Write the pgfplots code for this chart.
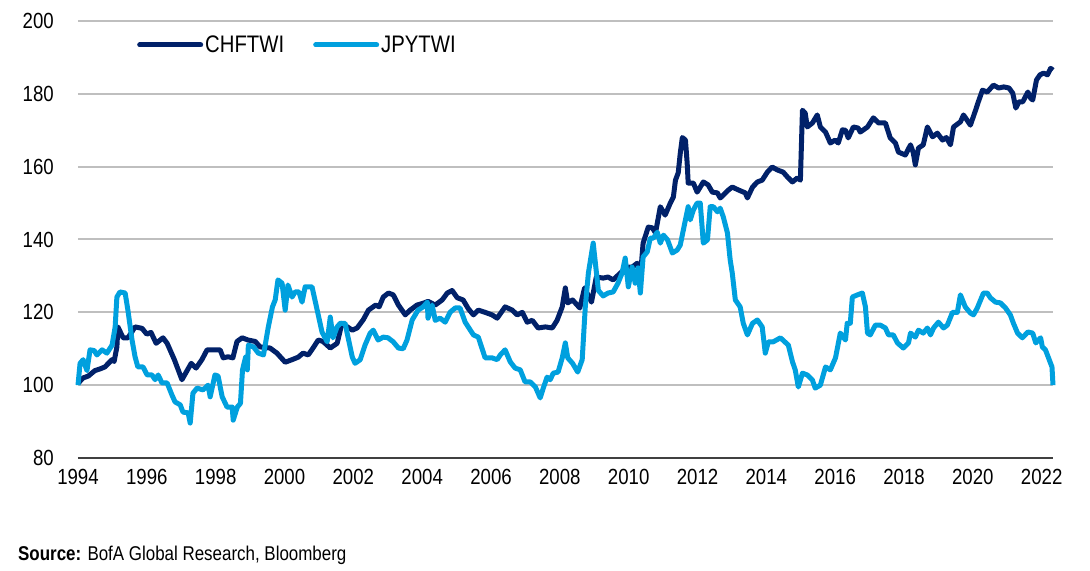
\documentclass[border=0pt]{standalone}
\usepackage{fontspec}
\setmainfont{Liberation Sans}[FakeStretch=0.85]
\newfontfamily\srcfont{Liberation Sans}[FakeStretch=0.85]
\usepackage{pgfplots}
\usepackage{pgfplotstable}
\pgfplotsset{compat=1.18}

\definecolor{chfblue}{RGB}{1,33,105}
\definecolor{jpyblue}{RGB}{0,160,222}
\definecolor{gridgray}{RGB}{191,191,191}
\definecolor{axisgray}{RGB}{64,64,64}

% CHF trade-weighted index
\pgfplotstableread{
year val
1994.00 100.5
1994.15 102
1994.30 102.5
1994.49 104
1994.65 104.5
1994.78 105
1994.99 107
1995.05 106.5
1995.13 110.5
1995.16 116
1995.31 113
1995.45 113
1995.66 116
1995.86 115.6
1996.00 114
1996.12 114.5
1996.27 111.5
1996.47 113
1996.59 111.5
1996.80 107
1997.02 101.5
1997.29 106
1997.43 104.7
1997.60 107
1997.75 109.7
1997.98 109.7
1998.13 109.7
1998.22 107.5
1998.36 107.8
1998.50 107.5
1998.62 112
1998.77 113
1998.94 112.4
1999.15 112
1999.29 110.5
1999.58 110.2
1999.78 108.8
2000.02 106.3
2000.22 107
2000.40 107.7
2000.54 108.8
2000.69 108.3
2000.83 110.2
2000.98 112.4
2001.12 112
2001.33 110.2
2001.53 111.5
2001.67 117
2001.97 115.1
2002.11 115.7
2002.29 118
2002.44 120.6
2002.65 122
2002.75 121.5
2002.87 124.2
2003.02 125.3
2003.16 124.8
2003.31 122
2003.51 119.3
2003.65 120.6
2003.85 122
2004.03 122.5
2004.17 123
2004.38 122
2004.58 123.4
2004.73 125.3
2004.87 126
2005.02 124
2005.19 123.4
2005.34 121
2005.49 119.3
2005.63 120.6
2005.83 120
2006.03 119.3
2006.18 118.4
2006.41 121.5
2006.62 120.6
2006.76 119.3
2006.91 120
2007.05 117.3
2007.20 117.8
2007.37 115.7
2007.58 116
2007.78 115.7
2007.92 117.8
2008.07 121.5
2008.16 126.7
2008.23 122.6
2008.37 123.4
2008.58 121.2
2008.72 126.7
2008.92 122.8
2009.06 129.7
2009.26 129.4
2009.40 129.7
2009.55 128.9
2009.76 130.8
2009.96 132.4
2010.10 132.4
2010.25 133.5
2010.34 129.7
2010.42 139
2010.57 143.4
2010.69 143.2
2010.78 141.8
2010.92 149
2011.06 146.7
2011.21 150
2011.30 151.7
2011.36 156.3
2011.44 158.3
2011.50 163.7
2011.56 168
2011.65 167.3
2011.70 161
2011.73 155.5
2011.88 155.5
2011.99 153
2012.17 155.8
2012.31 155
2012.43 153
2012.58 152.8
2012.66 151.4
2012.75 152.2
2012.90 153.6
2013.01 154.4
2013.19 153.6
2013.39 152.8
2013.45 151.4
2013.60 154.4
2013.74 155.8
2013.88 156.3
2014.03 158.5
2014.17 159.9
2014.32 159.1
2014.49 158.5
2014.61 157.2
2014.76 155.8
2014.90 156.9
2014.99 156.3
2015.05 175.5
2015.13 174.7
2015.19 170.9
2015.34 172
2015.48 174.2
2015.57 170.9
2015.72 169.5
2015.86 166.5
2016.00 167.3
2016.09 166.5
2016.21 170.1
2016.30 170
2016.38 167.9
2016.53 170.9
2016.67 170.6
2016.73 169.5
2016.94 170.9
2017.11 173.4
2017.26 172
2017.46 172
2017.60 167.9
2017.75 166.5
2017.84 164
2018.04 163.2
2018.19 166
2018.27 163.8
2018.33 160.5
2018.42 165.1
2018.56 166
2018.68 170.9
2018.83 168.2
2018.97 169.2
2019.12 167.3
2019.23 168
2019.35 166
2019.44 170.9
2019.64 172.3
2019.73 174.2
2019.93 171.4
2020.08 175.5
2020.16 177.8
2020.28 181
2020.42 180.5
2020.60 182.4
2020.75 181.6
2020.90 181.9
2021.05 181.6
2021.16 180.2
2021.25 176.1
2021.34 177.8
2021.45 177.8
2021.60 180.5
2021.68 178.8
2021.74 178.3
2021.85 183.8
2021.95 185.2
2022.06 185.7
2022.17 185.2
2022.26 187
2022.33 186.5
}\chftwi

% JPY trade-weighted index
\pgfplotstableread{
year val
1994.00 100
1994.06 106
1994.15 107
1994.26 104
1994.35 109.7
1994.47 109.5
1994.55 108.3
1994.70 109.7
1994.84 108.8
1994.99 111
1995.08 116
1995.13 124.2
1995.22 125.6
1995.37 125.3
1995.45 120.6
1995.57 112.4
1995.66 107.7
1995.74 105
1995.89 105
1996.01 102.8
1996.15 102.8
1996.24 101.5
1996.33 102.8
1996.44 100.6
1996.59 100.6
1996.73 97.3
1996.82 95.4
1996.97 94.6
1997.05 92.6
1997.20 92.4
1997.26 89.6
1997.34 97.8
1997.46 99.2
1997.63 98.7
1997.69 99.2
1997.78 100
1997.84 96.8
1997.98 102.8
1998.07 102.5
1998.19 96.8
1998.33 94
1998.48 94
1998.51 90.4
1998.63 94
1998.72 95
1998.78 104.2
1998.87 107.7
1998.92 104.2
1998.95 111
1999.10 110.5
1999.24 108.8
1999.39 108.3
1999.53 116
1999.65 121.5
1999.73 123.4
1999.81 128.9
1999.93 128
2000.02 120.6
2000.10 127.5
2000.22 124.2
2000.31 125.6
2000.42 125.6
2000.51 122.8
2000.60 127
2000.80 127
2000.95 120.6
2001.09 114.6
2001.24 111.9
2001.33 118.7
2001.41 113
2001.53 116
2001.62 117
2001.76 117
2001.85 113
2001.97 107.7
2002.05 106
2002.20 107
2002.34 111
2002.49 114.3
2002.58 115.1
2002.72 112.4
2002.87 113.2
2003.01 113
2003.16 111.9
2003.31 110.2
2003.45 110
2003.56 112.4
2003.71 117.9
2003.88 120.6
2004.03 121.5
2004.15 122.8
2004.17 118.4
2004.29 122
2004.38 117.8
2004.52 118.4
2004.67 117.3
2004.81 120
2004.96 121.2
2005.10 121.2
2005.25 117.3
2005.40 115.1
2005.49 113.8
2005.63 113.2
2005.83 107.5
2006.03 107.5
2006.18 107
2006.27 108.3
2006.41 109.7
2006.56 106.4
2006.70 104.7
2006.85 104.2
2006.99 100.9
2007.14 100.9
2007.29 99.5
2007.43 96.5
2007.52 99.2
2007.63 102.2
2007.72 101.5
2007.81 103.3
2007.95 103.6
2008.07 107.5
2008.16 111.6
2008.23 107.5
2008.37 106
2008.52 103.6
2008.65 107
2008.74 121.5
2008.83 130.8
2008.97 139
2009.12 126
2009.26 124.5
2009.40 125.3
2009.55 125.6
2009.69 128
2009.81 130.8
2009.90 134.9
2009.99 127
2010.10 132.4
2010.19 128
2010.27 132.2
2010.34 125.3
2010.42 135.2
2010.54 136.6
2010.63 140.4
2010.72 140.4
2010.83 142
2010.92 139
2011.01 141.2
2011.13 139.9
2011.27 136.3
2011.41 137.1
2011.50 138.5
2011.65 145.4
2011.73 149
2011.79 145.4
2011.88 148.1
2011.99 150
2012.08 150
2012.17 139
2012.29 139.9
2012.37 149
2012.46 149
2012.58 147.6
2012.66 148.6
2012.75 146.2
2012.87 141.8
2012.95 134.4
2013.01 130.8
2013.10 123.4
2013.24 121.5
2013.33 117
2013.45 113.8
2013.60 117
2013.74 117.9
2013.88 116
2013.97 108.8
2014.06 111.9
2014.20 111.9
2014.41 113
2014.64 111
2014.76 106.4
2014.84 104.2
2014.93 99.5
2015.05 103.3
2015.19 102.8
2015.34 101.4
2015.42 99.2
2015.57 100
2015.72 105
2015.86 104.2
2016.01 107.5
2016.15 114.3
2016.30 112.4
2016.35 117
2016.44 117
2016.50 124.2
2016.65 124.8
2016.79 125.3
2016.88 121.5
2016.94 114.3
2017.02 113.8
2017.17 116.5
2017.31 116.5
2017.46 115.7
2017.55 113.8
2017.69 113.8
2017.81 111.6
2017.98 110.2
2018.13 111.6
2018.19 114.3
2018.33 113.2
2018.42 115.1
2018.56 114.3
2018.68 115.7
2018.77 113.8
2018.86 115.7
2019.00 117.3
2019.15 115.7
2019.26 116.5
2019.41 120
2019.55 120
2019.64 124.8
2019.78 121.5
2019.93 119.8
2020.02 119.3
2020.13 121.2
2020.31 125.3
2020.42 125.3
2020.51 124
2020.66 122.8
2020.80 122.6
2020.95 121.2
2021.09 119.3
2021.18 117
2021.30 114.3
2021.44 113
2021.60 114.6
2021.74 114.3
2021.83 111.6
2021.97 113
2022.02 110.5
2022.11 109.7
2022.20 107.5
2022.30 105
2022.33 100
}\jpytwi

\begin{document}
\begin{tikzpicture}
\begin{axis}[
  at={(0bp,0bp)}, anchor=south west,
  scale only axis, width=975bp, height=437bp,
  xmin=1994, xmax=2022.33,
  ymin=80, ymax=200,
  xtick={1994,1996,...,2022},
  ytick={80,100,...,200},
  axis x line*=bottom, axis y line*=left,
  y axis line style={draw=none},
  x axis line style={draw=axisgray, line width=2.5bp},
  major tick length=0pt,
  ymajorgrids=true,
  grid style={gridgray, line width=2bp},
  /pgf/number format/assume math mode=true,
  /pgf/number format/1000 sep={},
  tick label style={font=\fontsize{22}{22}\selectfont, inner sep=0pt},
  xticklabel style={anchor=north, yshift=-11bp},
  yticklabel style={anchor=east, xshift=-24bp},
  legend style={at={(59bp,413bp)}, anchor=west, draw=none, fill=none,
    legend columns=2, inner sep=0pt,
    font=\fontsize{24}{24}\selectfont,
    /tikz/every even column/.append style={column sep=27bp}},
  legend image code/.code={\draw[#1, line cap=round] (0bp,0bp) -- (61bp,0bp);},
  legend cell align=left,
  clip=false,
]
\addplot[chfblue, line width=5bp, line join=round] table[x=year, y=val] {\chftwi};
\addlegendentry{CHFTWI}
\addplot[jpyblue, line width=5bp, line join=round] table[x=year, y=val] {\jpytwi};
\addlegendentry{JPYTWI}
\end{axis}
\node[anchor=base west, inner sep=0pt, font=\srcfont\fontsize{20}{20}\selectfont] at (-60bp,-102bp)
  {\textbf{Source:} BofA Global Research, Bloomberg};
\useasboundingbox (-78bp,-113bp) rectangle (1012bp,458bp);
\end{tikzpicture}
\end{document}
